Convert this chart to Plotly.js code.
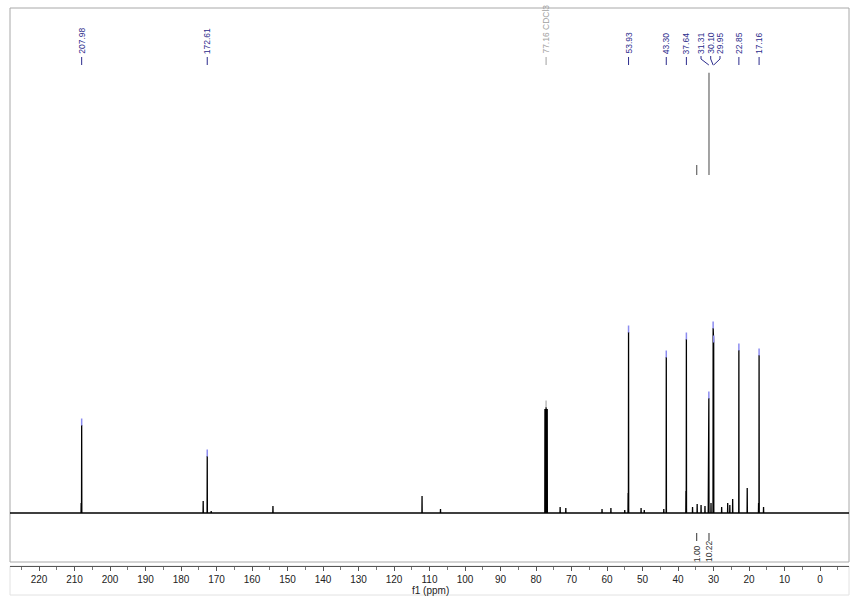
<!DOCTYPE html>
<html>
<head>
<meta charset="utf-8">
<script src="https://cdn.plot.ly/plotly-3.0.1.min.js"></script>
<style>html,body{margin:0;padding:0;background:#fff;}#chart{width:859px;height:605px;}</style>
</head>
<body>
<div id="chart"></div>
<script>
// ---- data (ppm / intensity) ----
const peakPpm = [208.12, 207.98, 173.75, 172.61, 171.5, 154.1, 112.1, 106.9,
  77.48, 77.16, 76.84, 73.2, 71.6, 61.4, 58.9, 55.0,
  54.05, 53.93, 50.4, 49.5, 44.0, 43.30, 37.76, 37.64, 35.9, 34.6, 33.5, 32.4,
  31.45, 31.31, 30.7, 30.10, 29.95, 27.7, 26.0, 25.4, 24.6, 22.85, 20.5,
  17.30, 17.16, 15.9];
const peakHeight = [10, 88, 12, 57, 2, 7, 17, 4,
  104, 106, 104, 6, 5, 4, 5, 3,
  20, 181, 5, 3, 4, 156, 22, 174, 6, 9, 8, 7,
  20, 115, 10, 185, 171, 6, 10, 8, 14, 163, 25,
  10, 158, 6];

const labelText = ['207.98','172.61','77.16 CDCl3','53.93','43.30','37.64','31.31','30.10','29.95','22.85','17.16'];
const labelPeak = [207.98, 172.61, 77.16, 53.93, 43.30, 37.64, 31.31, 30.10, 29.95, 22.85, 17.16];
const labelAt   = [207.98, 172.61, 77.16, 53.93, 43.30, 37.64, 33.52, 30.79, 28.17, 22.85, 17.16];
const labelHeight = [88, 57, 106, 181, 156, 174, 115, 185, 171, 163, 158];

const integralPpm = [34.73, 31.27];
const integralValue = [1.00, 10.22];
const integralText = ['1.00', '10.22'];

const xTicks = [220,210,200,190,180,170,160,150,140,130,120,110,100,90,80,70,60,50,40,30,20,10,0];

// ---- geometry helpers ----
const X0 = 228.17, X1 = -8.17;
const plotTop = 8, plotBottom = 566, plotH = plotBottom - plotTop;
const py = p => (plotBottom - p) / plotH; // pixel y -> paper y

// spectrum line built from the peak list
const w = 0.04;
const sx = [X0], sy = [0];
peakPpm.forEach((p, i) => {
  sx.push(p + w, p, p - w);
  sy.push(0, peakHeight[i], 0);
});
sx.push(X1); sy.push(0);

const traces = [
  {x: sx, y: sy, type: 'scatter', mode: 'lines',
   line: {color: '#000', width: 1.3}, hoverinfo: 'skip', showlegend: false},
  {x: labelPeak.filter((_, i) => i !== 2), y: labelHeight.filter((_, i) => i !== 2).map(h => h + 3),
   type: 'scatter', mode: 'markers', hoverinfo: 'skip', showlegend: false,
   marker: {symbol: 'line-ns', size: 5, line: {color: '#8c8cf0', width: 1.5}}},
  {x: [labelPeak[2]], y: [labelHeight[2] + 3], type: 'scatter', mode: 'markers', hoverinfo: 'skip', showlegend: false,
   marker: {symbol: 'line-ns', size: 5, line: {color: '#bbbbbb', width: 1.5}}}
];

// integral curves
const intBase = 338;
integralPpm.forEach((p, i) => {
  traces.push({x: [p, p], y: [intBase, intBase + 10 * integralValue[i]],
    type: 'scatter', mode: 'lines', line: {color: '#666', width: 1.2}, hoverinfo: 'skip', showlegend: false});
});

const shapes = [
  // frame
  {type: 'rect', xref: 'paper', yref: 'paper', x0: 0, x1: 1, y0: py(562), y1: 1,
   line: {color: '#a8a8a8', width: 1}, layer: 'below'},
  // lower axis box
  {type: 'rect', xref: 'paper', yref: 'paper', x0: 0, x1: 1, y0: py(595), y1: 0,
   line: {color: '#e2e2e2', width: 1}, layer: 'below'}
];
const annotations = [];

labelText.forEach((t, i) => {
  const isSolvent = i === 2;
  const col = isSolvent ? '#a0a0a0' : '#2b2b8c';
  const la = labelAt[i], lp = labelPeak[i];
  if (la === lp) {
    shapes.push({type: 'line', xref: 'x', yref: 'paper', x0: lp, x1: lp, y0: py(57), y1: py(65),
      line: {color: col, width: 1}});
  } else {
    shapes.push({type: 'line', xref: 'x', yref: 'paper', x0: la, x1: la, y0: py(56), y1: py(59),
      line: {color: col, width: 1}});
    shapes.push({type: 'line', xref: 'x', yref: 'paper', x0: la, x1: lp, y0: py(59), y1: py(65),
      line: {color: col, width: 1}});
  }
  annotations.push({x: la, xref: 'x', y: py(55), yref: 'paper', text: t, showarrow: false,
    textangle: -90, xanchor: 'center', yanchor: 'bottom', borderpad: 0,
    font: {family: 'Liberation Sans, Arial, sans-serif', size: 8.5, color: col}});
});

integralPpm.forEach((p, i) => {
  shapes.push({type: 'line', xref: 'x', yref: 'y', x0: p, x1: p, y0: -20, y1: -28,
    line: {color: '#333', width: 1}});
  annotations.push({x: p, xref: 'x', y: -50, yref: 'y', text: integralText[i], showarrow: false,
    textangle: -90, xanchor: 'center', yanchor: 'bottom', borderpad: 0,
    font: {family: 'Liberation Sans, Arial, sans-serif', size: 8.5, color: '#333'}});
});

annotations.push({x: (430 - 10) / 839, xref: 'paper', y: py(590), yref: 'paper', text: 'f1 (ppm)',
  showarrow: false, xanchor: 'center', yanchor: 'middle',
  font: {family: 'Liberation Sans, Arial, sans-serif', size: 10, color: '#222'}});

const layout = {
  width: 859, height: 605,
  margin: {l: 10, r: 10, t: 8, b: 39, pad: 0},
  paper_bgcolor: '#fff', plot_bgcolor: '#fff',
  showlegend: false,
  xaxis: {range: [X0, X1], tickvals: xTicks, ticktext: xTicks.map(String),
    showgrid: false, zeroline: false, showline: true, linecolor: '#555', linewidth: 1,
    ticks: 'outside', ticklen: 4, tickcolor: '#555', tickwidth: 1,
    minor: {dtick: 5, tick0: 0, ticks: 'outside', ticklen: 3, tickcolor: '#777', showgrid: false},
    tickfont: {family: 'Liberation Sans, Arial, sans-serif', size: 10, color: '#222'},
    fixedrange: true},
  yaxis: {range: [-53, 505], showgrid: false, zeroline: false, showline: false,
    showticklabels: false, ticks: '', fixedrange: true},
  shapes: shapes,
  annotations: annotations
};

Plotly.newPlot('chart', traces, layout, {displayModeBar: false, staticPlot: true});
</script>
</body>
</html>
